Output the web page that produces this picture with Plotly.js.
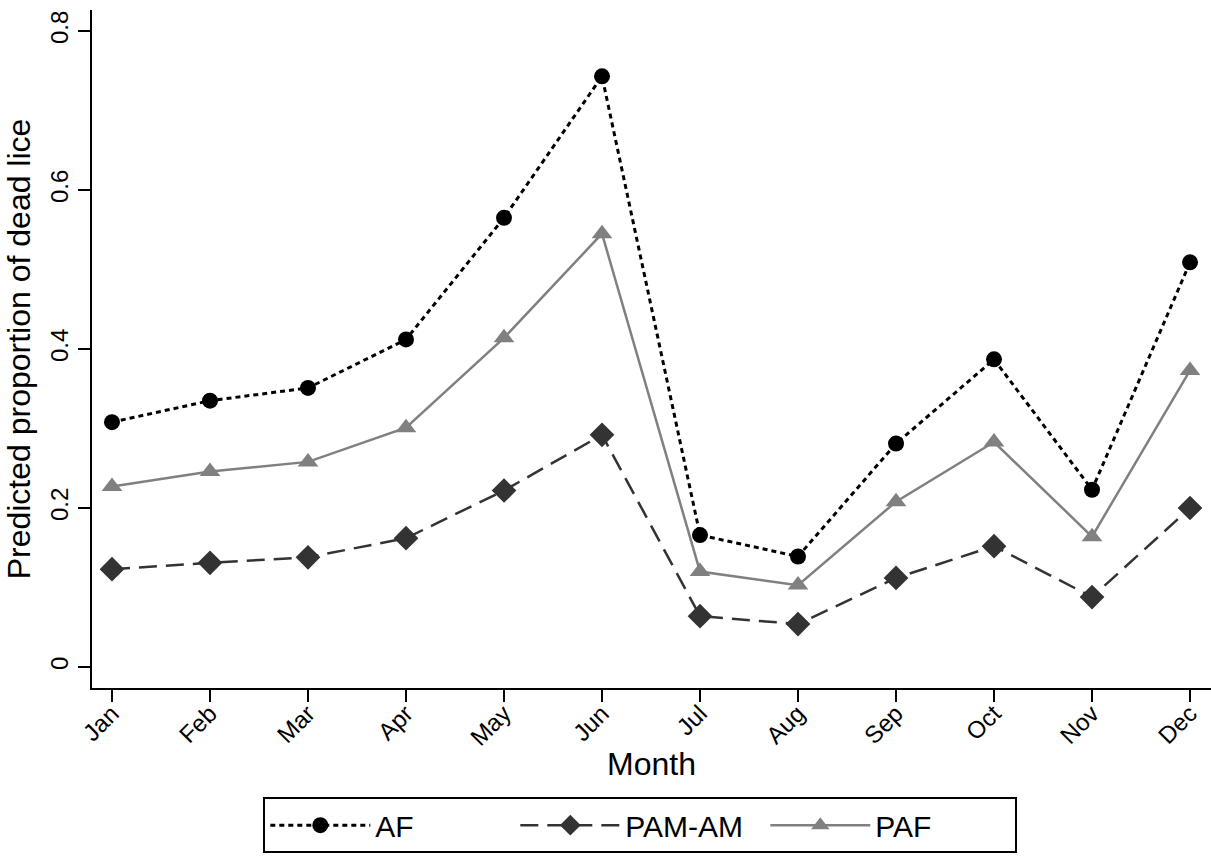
<!DOCTYPE html>
<html>
<head>
<meta charset="utf-8">
<script src="https://cdn.plot.ly/plotly-3.0.1.min.js"></script>
<style>
  html, body { margin: 0; padding: 0; background: #fff; }
  #chart { width: 1211px; height: 859px; }
</style>
</head>
<body>
<div id="chart"></div>
<script>
const months = ["Jan","Feb","Mar","Apr","May","Jun","Jul","Aug","Sep","Oct","Nov","Dec"];
const afValues    = [0.308, 0.335, 0.351, 0.412, 0.565, 0.743, 0.166, 0.139, 0.281, 0.387, 0.223, 0.509];
const pamamValues = [0.123, 0.131, 0.138, 0.162, 0.222, 0.292, 0.064, 0.054, 0.112, 0.152, 0.088, 0.200];
const pafValues   = [0.227, 0.246, 0.258, 0.301, 0.414, 0.545, 0.120, 0.103, 0.208, 0.283, 0.164, 0.373];
const yTicks = [0, 0.2, 0.4, 0.6, 0.8];
const yTickLabels = ["0", "0.2", "0.4", "0.6", "0.8"];

const FONT = "Liberation Sans, Arial, sans-serif";

const traces = [
  {
    x: months, y: afValues, name: "AF", type: "scatter", mode: "lines+markers",
    line: { color: "#000000", width: 3, dash: "5px,4px" },
    marker: { symbol: "circle", size: 16, color: "#000000" }
  },
  {
    x: months, y: pamamValues, name: "PAM-AM", type: "scatter", mode: "lines+markers",
    line: { color: "#333333", width: 2.5, dash: "18px,9px" },
    marker: { symbol: "diamond", size: 19, color: "#333333" }
  },
  {
    x: months, y: pafValues, name: "PAF", type: "scatter", mode: "lines+markers",
    line: { color: "#808080", width: 2.5 },
    marker: { symbol: "triangle-up", size: 18, color: "#808080" }
  }
];

const layout = {
  width: 1211, height: 859,
  margin: { l: 92, r: 0, t: 10, b: 171 },
  paper_bgcolor: "#ffffff", plot_bgcolor: "#ffffff",
  font: { family: FONT, color: "#000000" },
  showlegend: true,
  xaxis: {
    type: "category",
    range: [-0.204, 11.214],
    showgrid: false, zeroline: false,
    showline: true, linecolor: "#000000", linewidth: 2,
    ticks: "outside", ticklen: 12, tickwidth: 2, tickcolor: "#000000",
    tickangle: -45,
    ticklabelstandoff: -12,
    tickfont: { family: FONT, size: 24, color: "#000000" },
    title: { text: "Month", font: { family: FONT, size: 32, color: "#000000" }, standoff: 0 }
  },
  yaxis: {
    range: [-0.0264, 0.8264],
    tickvals: yTicks, ticktext: yTickLabels,
    showgrid: false, zeroline: false,
    showline: true, linecolor: "#000000", linewidth: 2,
    ticks: "outside", ticklen: 12, tickwidth: 2, tickcolor: "#000000",
    tickangle: -90,
    tickfont: { family: FONT, size: 24, color: "#000000" },
    title: { text: "Predicted proportion of dead lice", font: { family: FONT, size: 32, color: "#000000" }, standoff: 6 }
  },
  legend: {
    orientation: "h",
    x: 0.49, xanchor: "center",
    y: -0.161, yanchor: "top",
    bordercolor: "#000000", borderwidth: 2,
    bgcolor: "#ffffff",
    font: { family: FONT, size: 30, color: "#000000" },
    itemwidth: 100,
    entrywidth: 135,
    traceorder: "normal"
  }
};

Plotly.newPlot("chart", traces, layout, { displayModeBar: false, staticPlot: true });
</script>
</body>
</html>
